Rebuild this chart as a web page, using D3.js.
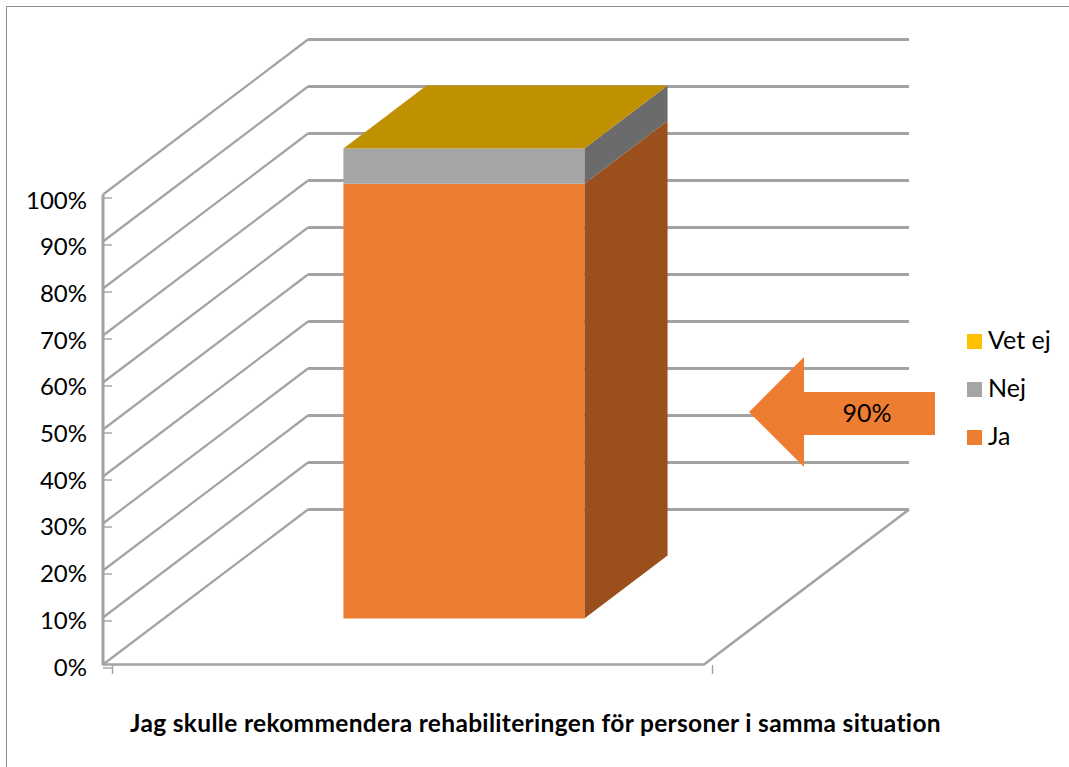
<!DOCTYPE html>
<html>
<head>
<meta charset="utf-8">
<script src="https://cdn.jsdelivr.net/npm/d3@7"></script>
<style>
  body { margin: 0; background: #fff; }
  text { font-family: Lato, "Open Sans", sans-serif; fill: #000; }
</style>
</head>
<body>
<svg id="chart" width="1069" height="767"></svg>
<script>
const categories = ["Jag skulle rekommendera rehabiliteringen för personer i samma situation"];
const seriesNames = ["Ja", "Nej", "Vet ej"];
const ja = [92.5];
const nej = [7.5];
const vetEj = [0];
const yTicks = [0, 10, 20, 30, 40, 50, 60, 70, 80, 90, 100];
const legendNames = ["Vet ej", "Nej", "Ja"];
const arrowLabel = "90%";

const front = { Ja: "#ed7d31", Nej: "#a5a5a5", "Vet ej": "#ffc000" };
const side = { Ja: "#9a4f1d", Nej: "#6b6b6b", "Vet ej": "#997300" };
const gridColor = "#a3a3a3";

let svg = d3.select("#chart");

// frame, only top and left are visible in the picture
svg.append("path")
  .attr("d", "M6.5,767V6.5H1069")
  .attr("fill", "none")
  .attr("stroke", "#8c8c8c")
  .attr("stroke-width", 1);

// Scales:
let yScale = d3.scaleLinear().domain([0, 100]).range([664.5, 194.5]);
let xBand = d3.scaleBand().domain(categories).range([103, 703]).padding(0.427);
let xFloor = d3.scaleLinear().domain([0, 1]).range([103, 704]);

// depth goes from the front plane (0) to the back wall (1)
let depthX = d3.scaleLinear().domain([0, 1]).range([0, 205]);
let depthY = d3.scaleLinear().domain([0, 1]).range([0, -155]);
const project = (x, v, z) => [x + depthX(z), yScale(v) + depthY(z)];
const line = d3.line();

// gridlines, left wall and back wall
yTicks.forEach(t => {
  svg.append("path")
    .attr("d", line([project(xFloor(0), t, 0), project(xFloor(0), t, 1)]))
    .attr("fill", "none")
    .attr("stroke", gridColor)
    .attr("stroke-width", 2.2);
  svg.append("path")
    .attr("d", line([project(xFloor(0), t, 1), project(xFloor(1), t, 1)]))
    .attr("fill", "none")
    .attr("stroke", gridColor)
    .attr("stroke-width", 2.8);
});

// floor
svg.append("path")
  .attr("d", line([project(xFloor(0), 0, 0), project(xFloor(1), 0, 0), project(xFloor(1), 0, 1)]))
  .attr("fill", "none")
  .attr("stroke", gridColor)
  .attr("stroke-width", 2.6);

// Axes:
let yAxis = d3.axisLeft(yScale)
  .tickValues(yTicks)
  .tickSize(-9)
  .tickPadding(16)
  .tickFormat(d => d + "%");

let yG = svg.append("g")
  .attr("transform", "translate(103, 3)")
  .call(yAxis);
yG.select(".domain").remove();
yG.selectAll("line").attr("stroke", gridColor).attr("stroke-width", 1.4);

// labels sit a little closer together than the ticks
let labelNudge = d3.scaleLinear().domain([0, 100]).range([-3, 0]);
yG.selectAll("text")
  .attr("font-size", 24)
  .attr("font-family", "Lato")
  .attr("dy", "0.44em")
  .attr("y", d => labelNudge(d));

let xAxis = d3.axisBottom(d3.scaleLinear().domain([0, 1]).range([112, 712]))
  .tickValues([0, 1])
  .tickSize(9)
  .tickFormat("");

let xG = svg.append("g")
  .attr("transform", "translate(0, 665)")
  .call(xAxis);
xG.select(".domain").remove();
xG.selectAll("line").attr("stroke", gridColor).attr("stroke-width", 1.4);

svg.append("path")
  .attr("d", line([[103, yScale(100)], [103, yScale(0) + 1]]))
  .attr("fill", "none")
  .attr("stroke", gridColor)
  .attr("stroke-width", 3);

// Stacked bar:
let rows = categories.map((c, i) => ({ category: c, Ja: ja[i], Nej: nej[i], "Vet ej": vetEj[i] }));
let stacked = d3.stack().keys(seriesNames)(rows);

const zNear = 0.297;
const zFar = 0.703;

stacked.forEach(layer => {
  let d = layer[0];
  let x0 = xBand(d.data.category);
  let x1 = x0 + xBand.bandwidth();
  let name = layer.key;

  svg.append("path")
    .attr("d", line([project(x1, d[0], zNear), project(x1, d[0], zFar), project(x1, d[1], zFar), project(x1, d[1], zNear)]) + "Z")
    .attr("fill", side[name]);

  svg.append("path")
    .attr("d", line([project(x0, d[0], zNear), project(x1, d[0], zNear), project(x1, d[1], zNear), project(x0, d[1], zNear)]) + "Z")
    .attr("fill", front[name]);
});

// top of the stack takes the colour of the last series
let topLayer = stacked[stacked.length - 1][0];
let tx0 = xBand(topLayer.data.category);
let tx1 = tx0 + xBand.bandwidth();
svg.append("path")
  .attr("d", line([project(tx0, topLayer[1], zNear), project(tx1, topLayer[1], zNear), project(tx1, topLayer[1], zFar), project(tx0, topLayer[1], zFar)]) + "Z")
  .attr("fill", "#bf9000");

// axis title
svg.append("text")
  .attr("x", 535.5)
  .attr("y", 732)
  .attr("text-anchor", "middle")
  .attr("font-size", 24.5)
  .attr("letter-spacing", 0.32)
  .attr("font-weight", 700)
  .text(categories[0]);

// legend
let legendY = d3.scalePoint().domain(legendNames).range([341.5, 437.5]);
legendNames.forEach(n => {
  svg.append("rect")
    .attr("x", 967)
    .attr("y", legendY(n) - 7.5)
    .attr("width", 15)
    .attr("height", 15)
    .attr("fill", front[n]);
  svg.append("text")
    .attr("x", 988)
    .attr("y", legendY(n) + 7)
    .attr("font-size", 25)
    .text(n);
});

// arrow annotation
svg.append("path")
  .attr("d", "M749,412L804,357V392H935V435H804V467Z")
  .attr("fill", "#ed7d31");

svg.append("text")
  .attr("x", 867)
  .attr("y", 422)
  .attr("text-anchor", "middle")
  .attr("font-size", 25)
  .text(arrowLabel);
</script>
</body>
</html>
